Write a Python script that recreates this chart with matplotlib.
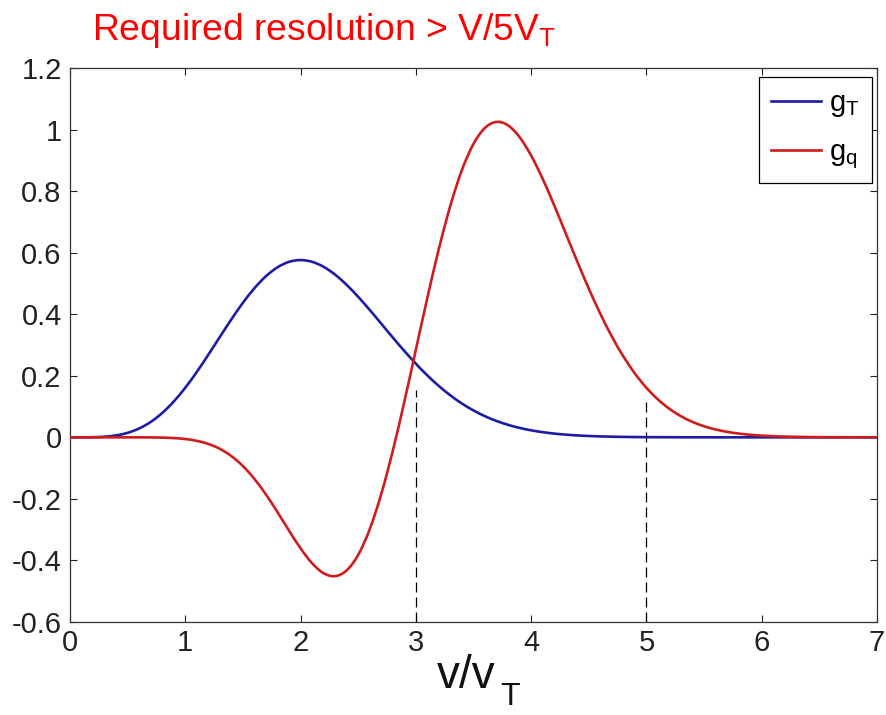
import numpy as np
import matplotlib
matplotlib.use("Agg")
import matplotlib.pyplot as plt
from matplotlib.path import Path
from matplotlib.patches import PathPatch
from matplotlib.lines import Line2D

plt.rcParams['font.family'] = ['Liberation Sans', 'DejaVu Sans']
plt.rcParams['mathtext.fontset'] = 'custom'
plt.rcParams['mathtext.rm'] = 'Liberation Sans'
plt.rcParams['mathtext.it'] = 'Liberation Sans:italic'

# normalised speed v/v_T, sampled every 0.1
v = np.round(np.arange(0, 71) * 0.1, 1)

g_T = [0.0, 0.00003, 0.00042, 0.00206, 0.00628, 0.01467, 0.02879, 0.04998, 0.0791, 0.1164,
       0.1613, 0.2126, 0.2685, 0.3263, 0.3834, 0.4372, 0.4846, 0.5236, 0.5525, 0.5702,
       0.5759, 0.5703, 0.5540, 0.5285, 0.4953, 0.4565, 0.4138, 0.3693, 0.3243, 0.2807,
       0.2393, 0.2011, 0.1667, 0.1362, 0.1098, 0.0873, 0.0685, 0.0531, 0.0406, 0.0306,
       0.0228, 0.0168, 0.0122, 0.0088, 0.0062, 0.0044, 0.0030, 0.0021, 0.0014, 0.0009,
       0.0006, 0.0004, 0.0003, 0.0002, 0.0001, 0.0001, 0.0, 0.0, 0.0, 0.0,
       0.0, 0.0, 0.0, 0.0, 0.0, 0.0, 0.0, 0.0, 0.0, 0.0, 0.0]

g_q = [0.0, 0.0, 0.0, 0.0, 0.0, -0.00002, -0.00008, -0.00031, -0.00093, -0.00242,
       -0.00553, -0.01138, -0.02145, -0.03741, -0.06094, -0.09341, -0.13526, -0.18588, -0.24315, -0.30327,
       -0.36069, -0.40914, -0.44146, -0.45106, -0.43226, -0.38173, -0.29830, -0.18409, -0.04370, 0.11550,
       0.28453, 0.45355, 0.61307, 0.75374, 0.86901, 0.95350, 1.00556, 1.02486, 1.01352, 0.97530,
       0.91549, 0.84000, 0.75378, 0.66272, 0.57132, 0.48329, 0.40147, 0.32765, 0.26287, 0.20741,
       0.16102, 0.12304, 0.09256, 0.06858, 0.05005, 0.03600, 0.02552, 0.01783, 0.01228, 0.00835,
       0.00559, 0.00370, 0.00241, 0.00155, 0.00099, 0.00062, 0.00038, 0.00023, 0.00014, 0.00008,
       0.00005]

# resolution markers: (v/v_T, top of the dashed line)
marker_v = [3.0, 5.0]
marker_top = [0.155, 0.122]

x_ticks = [0, 1, 2, 3, 4, 5, 6, 7]
y_ticks = [-0.6, -0.4, -0.2, 0, 0.2, 0.4, 0.6, 0.8, 1, 1.2]
y_tick_labels = ['-0.6', '-0.4', '-0.2', '0', '0.2', '0.4', '0.6', '0.8', '1', '1.2']

blue = '#1c1ca6'
red = '#d01c1c'
LW = 1.9


def smooth_path(x, y):
    """Catmull-Rom curve through the samples, as cubic Bezier segments."""
    p = np.column_stack([x, y]).astype(float)
    q = np.vstack([p[0], p, p[-1]])
    verts = [p[0]]
    codes = [Path.MOVETO]
    for i in range(1, len(q) - 2):
        c1 = q[i] + (q[i + 1] - q[i - 1]) / 6.0
        c2 = q[i + 1] - (q[i + 2] - q[i]) / 6.0
        verts += [c1, c2, q[i + 1]]
        codes += [Path.CURVE4] * 3
    return Path(verts, codes)


fig = plt.figure(figsize=(8.87, 7.15), dpi=100)
ax = fig.add_axes([70 / 887, 93 / 715, 807 / 887, 554 / 715])

for series, col in [(g_T, blue), (g_q, red)]:
    ax.add_patch(PathPatch(smooth_path(v, series), fill=False, edgecolor=col,
                           lw=LW, capstyle='round', joinstyle='round', zorder=3))

for xv, top in zip(marker_v, marker_top):
    ax.plot([xv, xv], [-0.6, top], color='black', lw=0.9, dashes=(8, 4), zorder=2)

ax.set_xlim(0, 7)
ax.set_ylim(-0.6, 1.2)
ax.set_xticks(x_ticks)
ax.set_xticklabels([str(t) for t in x_ticks])
ax.set_yticks(y_ticks)
ax.set_yticklabels(y_tick_labels)
ax.tick_params(direction='in', length=5, width=0.8, top=True, right=True,
               labelsize=21, colors='#222222')
ax.tick_params(axis='y', pad=6)
ax.tick_params(axis='x', pad=5)
for s in ax.spines.values():
    s.set_linewidth(0.9)
    s.set_color('#333333')

# axis label with a large subscript
ax.text(0.4548, -0.1191, 'v/v', transform=ax.transAxes, fontsize=33,
        ha='left', va='baseline', color='#111111')
ax.text(0.5328, -0.149, 'T', transform=ax.transAxes, fontsize=23,
        ha='left', va='baseline', color='#111111')

handles = [Line2D([], [], color=blue, lw=LW), Line2D([], [], color=red, lw=LW)]
leg = ax.legend(handles, [r'g$_\mathregular{T}$', r'g$_\mathregular{q}$'],
                loc='upper right', bbox_to_anchor=(0.9938, 0.9838), fontsize=21,
                handlelength=1.7, handletextpad=0.3, borderpad=0.42,
                labelspacing=0.65, fancybox=False, framealpha=1,
                edgecolor='black', borderaxespad=0)
leg.get_frame().set_linewidth(0.9)

fig.text(92 / 887, 1 - 40 / 715, r'Required resolution > V/5V$_\mathregular{T}$',
         color='#ff0000', fontsize=26.8, ha='left', va='baseline')

fig.savefig('out.png', dpi=100)
